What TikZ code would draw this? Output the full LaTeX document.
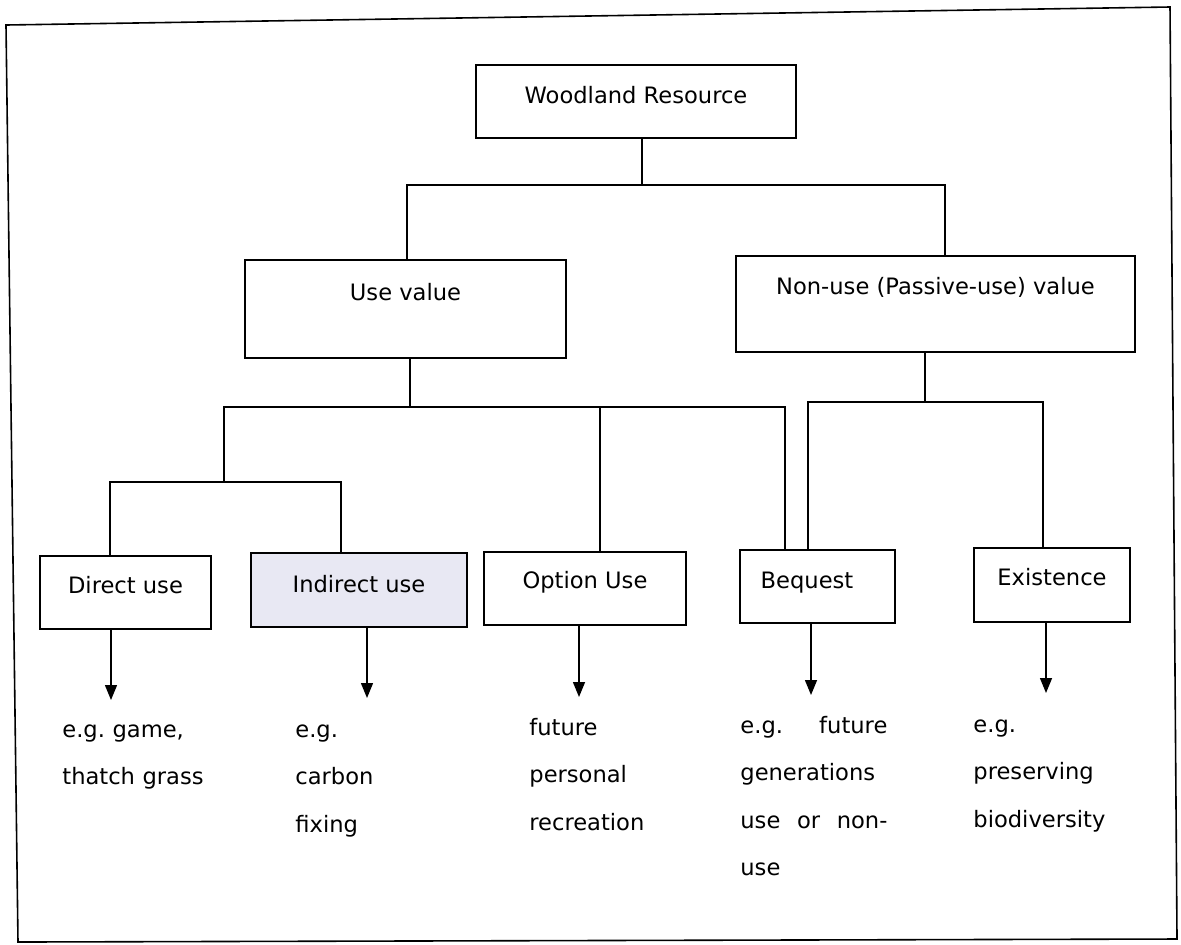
\documentclass[tikz,border=0pt]{standalone}
\usepackage{fontspec}
\setmainfont{DejaVu Sans}
\usetikzlibrary{arrows.meta}
\definecolor{lav}{HTML}{E8E8F3}
\begin{document}
\begin{tikzpicture}[x=0.5pt,y=-0.5pt,
  box/.style={draw, line width=0.8pt, inner sep=0pt, anchor=base, align=center,
    font=\fontsize{11.3}{14}\selectfont},
  conn/.style={line width=0.7pt},
  arr/.style={line width=0.7pt, -{Triangle[length=7.5pt,width=6pt]}},
  ex/.style={anchor=base west, inner sep=0pt, align=left, text width=76pt,
    font=\fontsize{11.3}{23.75}\selectfont}]
\useasboundingbox (0,0) rectangle (1181,944);
% frame
\draw[line width=0.8pt] (6,25) -- (1170,7) -- (1177,939) -- (18,942) -- cycle;
% boxes
\node[box, minimum width=160pt, text height=19pt, text depth=17.5pt] (wr) at (636,103) {Woodland Resource};
\node[box, minimum width=160.5pt, text height=20pt, text depth=29pt] (uv) at (405.5,300) {Use value};
\node[box, minimum width=199.5pt, text height=19pt, text depth=29pt] (nu) at (935.5,294) {Non-use (Passive-use) value};
\node[box, minimum width=85.5pt, text height=18.5pt, text depth=18pt] (dir) at (125.5,593) {Direct use};
\node[box, fill=lav, minimum width=108pt, text height=19.5pt, text depth=17.5pt] (ind) at (359,592) {Indirect use};
\node[box, minimum width=101pt, text height=18pt, text depth=18.5pt] (opt) at (585,588) {Option Use};
\node[box, minimum width=77.5pt, text height=19pt, text depth=17.5pt] (beq) at (817.5,588) {Bequest\hspace*{10.5pt}};
\node[box, minimum width=78pt, text height=18.5pt, text depth=18.5pt] (exi) at (1052,585) {Existence};
% junctions
\coordinate (a0) at (407,185);
\coordinate (a2) at (945,185);
\coordinate (b0) at (224,407);
\coordinate (b1) at (410,407);
\coordinate (b2) at (785,407);
\coordinate (c0) at (110,482);
\coordinate (c1) at (224,482);
\coordinate (c2) at (341,482);
\coordinate (e0) at (808,402);
\coordinate (e1) at (925,402);
\coordinate (e2) at (1043,402);
% connectors
\draw[conn] ([xshift=3pt]wr.south) -- ([xshift=3pt]wr.south |- a0);
\draw[conn] ([xshift=0.75pt]uv.north) -- (a0) -- (a2) -- ([xshift=4.75pt]nu.north);
\draw[conn] ([xshift=2.25pt]uv.south) -- (b1);
\draw[conn] (c1) -- (b0) -- (b2) -- (b2 |- beq.north);
\draw[conn] ([xshift=7.5pt]opt.north) -- ([xshift=7.5pt]opt.north |- b0);
\draw[conn] ([xshift=-7.75pt]dir.north) -- (c0) -- (c2) -- ([xshift=-9pt]ind.north);
\draw[conn] ([xshift=-5.25pt]nu.south) -- (e1);
\draw[conn] ([xshift=-4.75pt]beq.north) -- (e0) -- (e2) -- ([xshift=-4.5pt]exi.north);
% arrows
\coordinate (p1) at (111,700);
\coordinate (p2) at (367,698);
\coordinate (p3) at (579,697);
\coordinate (p4) at (811,695);
\coordinate (p5) at (1046,693);
\draw[arr] ([xshift=-7.25pt]dir.south) -- (p1);
\draw[arr] ([xshift=4pt]ind.south) -- (p2);
\draw[arr] ([xshift=-3pt]opt.south) -- (p3);
\draw[arr] ([xshift=-3.25pt]beq.south) -- (p4);
\draw[arr] ([xshift=-3pt]exi.south) -- (p5);
% example texts
\node[ex] (t1) at (62,737) {e.g.\ game,\\thatch grass};
\node[ex] (t2) at (295,737) {e.g.\\carbon\\fixing};
\node[ex] (t3) at (529,735) {future\\personal\\recreation};
\node[ex, text width=73.5pt] (t4) at (740,733) {e.g.\hfill future\\generations\\use\hfill or\hfill non-\\use};
\node[ex] (t5) at (973,732) {e.g.\\preserving\\biodiversity};
\end{tikzpicture}
\end{document}
